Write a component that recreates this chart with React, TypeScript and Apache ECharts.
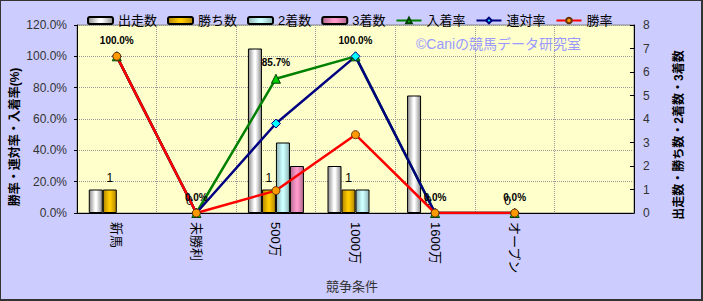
import React, { useEffect, useRef } from "react";
import * as echarts from "echarts";

const categories = ["新馬", "未勝利", "500万", "1000万", "1600万", "オープン", ""];
const starts = [1, 0, 7, 2, 5, 0, null];
const wins = [1, 0, 1, 1, 0, 0, null];
const seconds = [0, 0, 3, 1, 0, 0, null];
const thirds = [0, 0, 2, 0, 0, 0, null];
const placeRate = [100, 0, 85.7, 100, 0, 0, null];
const quinellaRate = [100, 0, 57.1, 100, 0, 0, null];
const winRate = [100, 0, 14.3, 50, 0, 0, null];
const leftTicks = [0, 20, 40, 60, 80, 100, 120];
const rightTicks = [0, 1, 2, 3, 4, 5, 6, 7, 8];

const FONT = '"Liberation Sans", "Noto Sans CJK JP", sans-serif';

function grad(edge: string, mid: string) {
  return new echarts.graphic.LinearGradient(0, 0, 1, 0, [
    { offset: 0, color: edge },
    { offset: 0.45, color: mid },
    { offset: 0.55, color: mid },
    { offset: 1, color: edge },
  ]);
}

function barData(arr: (number | null)[]) {
  return arr.map((v) =>
    v === 0 ? { value: 0, itemStyle: { borderWidth: 0, color: "rgba(0,0,0,0)" } } : v
  );
}

export default function App() {
  const ref = useRef<HTMLDivElement>(null);
  useEffect(() => {
    if (!ref.current) return;
    const chart = echarts.init(ref.current, null, { renderer: "svg" });
    const barBase = {
      type: "bar",
      yAxisIndex: 1,
      barWidth: 14,
      barGap: "0%",
    };
    const lineBase = {
      type: "line",
      yAxisIndex: 0,
      symbolSize: 8,
      lineStyle: { width: 2.5 },
    };
    chart.setOption({
      animation: false,
      textStyle: { fontFamily: FONT },
      grid: {
        left: 77,
        right: 69,
        top: 25,
        bottom: 88,
        show: true,
        backgroundColor: "#ffffcc",
        borderColor: "#888",
        borderWidth: 1,
      },
      legend: {
        top: 9,
        left: 82,
        itemWidth: 25,
        itemHeight: 7,
        itemGap: 10,
        textStyle: { fontSize: 13, color: "#000", fontFamily: FONT },
        data: ["出走数", "勝ち数", "2着数", "3着数", "入着率", "連対率", "勝率"],
      },
      xAxis: {
        type: "category",
        data: categories,
        boundaryGap: true,
        axisLine: { lineStyle: { color: "#000", width: 1 } },
        axisTick: { show: false },
        axisLabel: {
          rotate: -90,
          margin: 9,
          fontSize: 13,
          color: "#000",
          fontFamily: FONT,
        },
        splitLine: { show: true, interval: 0, lineStyle: { color: "#999", type: "dotted" } },
      },
      yAxis: [
        {
          type: "value",
          min: leftTicks[0],
          max: leftTicks[leftTicks.length - 1],
          interval: 20,
          axisLine: { show: true, lineStyle: { color: "#000" } },
          axisTick: { show: true, length: 3, lineStyle: { color: "#000" } },
          axisLabel: {
            fontSize: 12,
            color: "#333",
            margin: 10,
            formatter: (v: number) => v.toFixed(1) + "%",
          },
          splitLine: { show: true, lineStyle: { color: "#999", type: "dotted" } },
        },
        {
          type: "value",
          min: rightTicks[0],
          max: rightTicks[rightTicks.length - 1],
          interval: 1,
          position: "right",
          axisLine: { show: true, lineStyle: { color: "#000" } },
          axisTick: { show: true, inside: true, length: 4, lineStyle: { color: "#000" } },
          axisLabel: { fontSize: 12, color: "#333", margin: 9 },
          splitLine: { show: false },
        },
      ],
      graphic: [
        {
          type: "text",
          x: 15,
          y: 137,
          rotation: Math.PI / 2,
          style: {
            text: "勝率・連対率・入着率(%)",
            fontSize: 12,
            fontWeight: "bold",
            fill: "#000",
            align: "center",
            verticalAlign: "middle",
            fontFamily: FONT,
          },
        },
        {
          type: "text",
          x: 679,
          y: 135,
          rotation: Math.PI / 2,
          style: {
            text: "出走数・勝ち数・2着数・3着数",
            fontSize: 12,
            fontWeight: "bold",
            fill: "#000",
            align: "center",
            verticalAlign: "middle",
            fontFamily: FONT,
          },
        },
        {
          type: "text",
          x: 352,
          y: 286,
          style: {
            text: "競争条件",
            fontSize: 13,
            fill: "#333",
            align: "center",
            verticalAlign: "middle",
            fontFamily: FONT,
          },
        },
        {
          type: "text",
          x: 416,
          y: 44,
          style: {
            text: "©Caniの競馬データ研究室",
            fontSize: 14,
            fill: "#9999FF",
            align: "left",
            verticalAlign: "middle",
            fontFamily: FONT,
          },
        },
      ],
      series: [
        {
          ...barBase,
          name: "出走数",
          data: barData(starts),
          itemStyle: { color: grad("#8c8c8c", "#ffffff"), borderColor: "#000", borderWidth: 1 },
        },
        {
          ...barBase,
          name: "勝ち数",
          data: barData(wins),
          itemStyle: { color: grad("#b38600", "#ffcc00"), borderColor: "#000", borderWidth: 1 },
          label: {
            show: true,
            position: "top",
            distance: 6,
            fontSize: 12,
            color: "#000",
            textBorderWidth: 0,
            formatter: (p: any) => String(p.value),
          },
        },
        {
          ...barBase,
          name: "2着数",
          data: barData(seconds),
          itemStyle: { color: grad("#8fb3b3", "#ccffff"), borderColor: "#000", borderWidth: 1 },
        },
        {
          ...barBase,
          name: "3着数",
          data: barData(thirds),
          itemStyle: { color: grad("#b36b8f", "#ff99cc"), borderColor: "#000", borderWidth: 1 },
        },
        {
          ...lineBase,
          name: "入着率",
          data: placeRate,
          symbol: "triangle",
          symbolSize: 9,
          itemStyle: { color: "#00cc00", borderColor: "#004000", borderWidth: 1 },
          lineStyle: { width: 2.5, color: "#008000" },
          label: {
            show: true,
            position: "top",
            distance: 6,
            fontSize: 10,
            fontWeight: "bold",
            color: "#000",
            textBorderWidth: 0,
            formatter: (p: any) => Number(p.value).toFixed(1) + "%",
          },
        },
        {
          ...lineBase,
          name: "連対率",
          data: quinellaRate,
          symbol: "diamond",
          symbolSize: 9,
          itemStyle: { color: "#00ffff", borderColor: "#000080", borderWidth: 1 },
          lineStyle: { width: 2.5, color: "#000080" },
        },
        {
          ...lineBase,
          name: "勝率",
          data: winRate,
          symbol: "circle",
          symbolSize: 8,
          itemStyle: { color: "#ff9900", borderColor: "#663300", borderWidth: 1 },
          lineStyle: { width: 2.5, color: "#ff0000" },
        },
      ],
    });
    return () => chart.dispose();
  }, []);
  return (
    <div
      style={{
        position: "fixed",
        left: 0,
        top: 0,
        width: 703,
        height: 301,
        boxSizing: "border-box",
        background: "#ccccff",
        borderTop: "1px solid #333",
        borderLeft: "1px solid #333",
        borderRight: "2px solid #333",
        borderBottom: "2px solid #333",
      }}
    >
      <div
        ref={ref}
        style={{ position: "absolute", left: -1, top: -1, width: 703, height: 301 }}
      >
      </div>
    </div>
  );
}
